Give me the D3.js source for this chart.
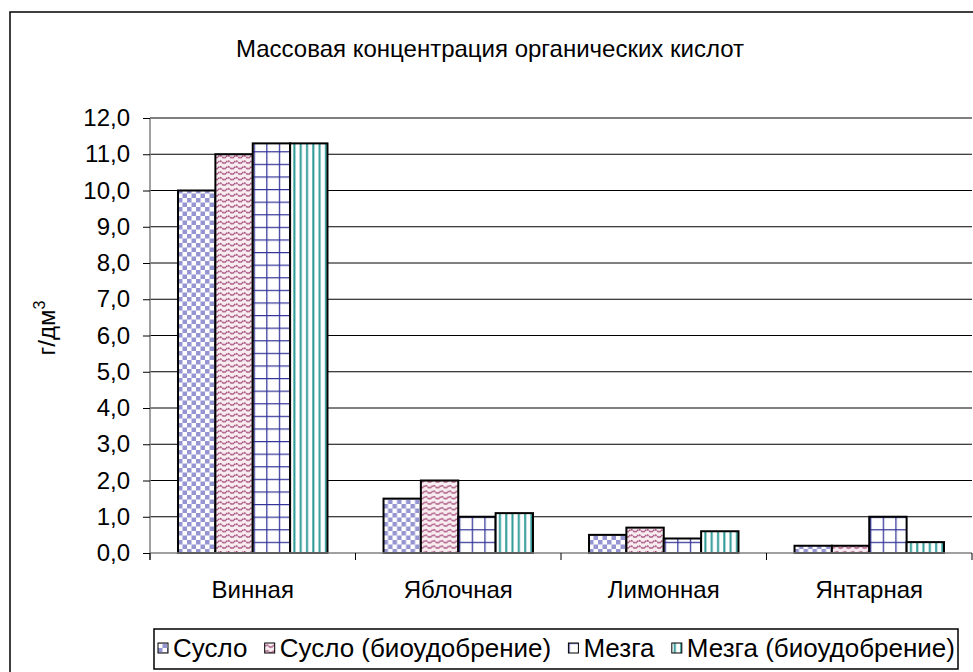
<!DOCTYPE html>
<html><head><meta charset="utf-8">
<script src="https://cdn.jsdelivr.net/npm/d3@7"></script>
<style>body{margin:0;background:#fff}svg{display:block}text{font-family:"Liberation Sans",Arial,sans-serif;fill:#000}</style>
</head><body>
<script>
const title = "Массовая концентрация органических кислот";
const yLabel = "г/дм";
const categories = ["Винная","Яблочная","Лимонная","Янтарная"];
const seriesNames = ["Сусло","Сусло (биоудобрение)","Мезга","Мезга (биоудобрение)"];
const susloValues = [10.0, 1.5, 0.5, 0.2];
const susloBioValues = [11.0, 2.0, 0.7, 0.2];
const mezgaValues = [11.3, 1.0, 0.4, 1.0];
const mezgaBioValues = [11.3, 1.1, 0.6, 0.3];
const yTicks = [0,1,2,3,4,5,6,7,8,9,10,11,12];
const seriesValues = [susloValues, susloBioValues, mezgaValues, mezgaBioValues];

(function(){
const W = 973, H = 672;
const svg = d3.select("body").append("svg").attr("width", W).attr("height", H);
const defs = svg.append("defs");

const p0 = defs.append("pattern").attr("id","pat0").attr("patternUnits","userSpaceOnUse").attr("width",9).attr("height",9);
p0.append("rect").attr("width",9).attr("height",9).attr("fill","#fff");
p0.append("rect").attr("width",4.5).attr("height",4.5).attr("fill","#9595d2");
p0.append("rect").attr("x",4.5).attr("y",4.5).attr("width",4.5).attr("height",4.5).attr("fill","#9595d2");

const p1 = defs.append("pattern").attr("id","pat1").attr("patternUnits","userSpaceOnUse").attr("width",8).attr("height",5.5);
p1.append("rect").attr("width",8).attr("height",5.5).attr("fill","#f8eef2");
p1.append("path").attr("d","M0,2.75 L2,1.2 L4,2.75 L6,4.3 L8,2.75").attr("fill","none").attr("stroke","#993366").attr("stroke-width",1.4).attr("stroke-dasharray","1.8,0.9");

const p2 = defs.append("pattern").attr("id","pat2").attr("patternUnits","userSpaceOnUse").attr("width",12.6).attr("height",12.6);
p2.append("rect").attr("width",12.6).attr("height",12.6).attr("fill","#fff");
p2.append("path").attr("d","M0,0.6 H12.6 M0.6,0 V12.6").attr("stroke","#333399").attr("stroke-width",1.3);

const p3 = defs.append("pattern").attr("id","pat3").attr("patternUnits","userSpaceOnUse").attr("width",6.3).attr("height",10);
p3.append("rect").attr("width",6.3).attr("height",10).attr("fill","#fff");
p3.append("rect").attr("x",2).attr("width",2).attr("height",10).attr("fill","#2e9a96");

const fills = ["url(#pat0)","url(#pat1)","url(#pat2)","url(#pat3)"];

svg.append("rect").attr("x",10).attr("y",12).attr("width",980).attr("height",680)
  .attr("fill","none").attr("stroke","#000").attr("stroke-width",1.5);

const pl = 150, pr = 972, pt = 118, pb = 553;
const x = d3.scaleBand().domain(categories).range([pl,pr]).paddingInner(1.5/5.5).paddingOuter(0.75/5.5);
const xs = d3.scaleBand().domain(d3.range(4)).range([0,x.bandwidth()]);
const y = d3.scaleLinear().domain([0,12]).range([pb,pt]);

svg.append("g").selectAll("line").data(yTicks.slice(1)).join("line")
  .attr("x1",pl).attr("x2",pr).attr("y1",d=>y(d)).attr("y2",d=>y(d))
  .attr("stroke","#000").attr("stroke-width",1);

const yAxis = svg.append("g").attr("transform",`translate(${pl},0)`)
  .call(d3.axisLeft(y).tickValues(yTicks).tickSize(7).tickPadding(13).tickFormat(d=>d3.format(".1f")(d).replace(".",",")));
yAxis.select(".domain").attr("stroke","#808080").attr("stroke-width",1.5).attr("d",`M0,${pt}V${pb+7}`);
yAxis.selectAll(".tick line").attr("stroke","#000");
yAxis.selectAll("text").style("font-size","24px").attr("fill","#000");

const groups = svg.append("g").selectAll("g").data(categories).join("g")
  .attr("transform",d=>`translate(${x(d)},0)`);
groups.selectAll("rect").data((c,i)=>seriesValues.map((s,k)=>({k,v:s[i]}))).join("rect")
  .attr("x",d=>xs(d.k)).attr("width",xs.bandwidth())
  .attr("y",d=>y(d.v)).attr("height",d=>pb-y(d.v))
  .attr("fill",d=>fills[d.k]).attr("stroke","#000").attr("stroke-width",2);

const step = x.step();
svg.append("line").attr("x1",pl).attr("x2",pr).attr("y1",pb).attr("y2",pb).attr("stroke","#808080").attr("stroke-width",1.5);
svg.append("g").selectAll("line").data(d3.range(categories.length+1)).join("line")
  .attr("x1",i=>pl+i*step).attr("x2",i=>pl+i*step).attr("y1",pb).attr("y2",pb+7)
  .attr("stroke","#000");
svg.append("g").selectAll("text").data(categories).join("text")
  .attr("x",d=>x(d)+x.bandwidth()/2).attr("y",598).attr("text-anchor","middle")
  .style("font-size","24px").text(d=>d);

svg.append("text").attr("x",490).attr("y",57).attr("text-anchor","middle").style("font-size","24px").text(title);

const yl = svg.append("text").attr("transform","translate(55,328) rotate(-90)").attr("text-anchor","middle").style("font-size","24px");
yl.append("tspan").text(yLabel);
yl.append("tspan").attr("dy",-10).style("font-size","16px").text("3");

// legend: uniform font, items spread between box edges
svg.append("rect").attr("x",154).attr("y",629).attr("width",804).attr("height",40).attr("fill","#fff").attr("stroke","#000").attr("stroke-width",1.5);
const lg = svg.append("g").selectAll("g").data(seriesNames).join("g");
lg.append("rect").attr("x",0).attr("y",643).attr("width",10).attr("height",10).attr("fill",(d,i)=>fills[i]).attr("stroke","#000").attr("stroke-width",1);
const lt = lg.append("text").attr("x",15).attr("y",657).style("font-size","26px").text(d=>d);
const widths = lt.nodes().map(n=>n.getComputedTextLength());
const startX = 158, endX = 955;
const total = d3.sum(widths) + 15*widths.length;
const gap = (endX - startX - total)/(widths.length-1);
let cx = startX;
lg.each(function(d,i){ d3.select(this).attr("transform",`translate(${cx},0)`); cx += 15 + widths[i] + gap; });
})();
</script>
</body></html>
